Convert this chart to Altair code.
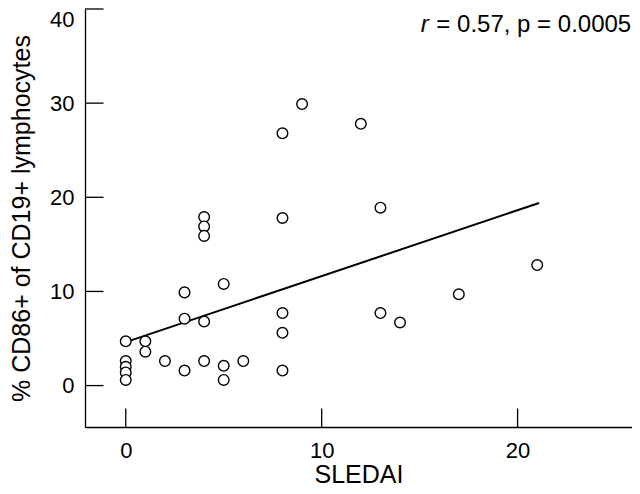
import altair as alt
import pandas as pd

# ---- data ----
sledai = [0, 0, 0, 0, 0,
          1, 1,
          2,
          3, 3, 3,
          4, 4, 4, 4, 4,
          5, 5, 5,
          6,
          8, 8, 8, 8, 8,
          9,
          12,
          13, 13,
          14,
          17,
          21]
cd86 = [4.7, 2.6, 2.0, 1.4, 0.6,
        4.7, 3.6,
        2.6,
        9.9, 7.1, 1.6,
        17.9, 16.9, 15.9, 6.8, 2.6,
        10.8, 2.1, 0.6,
        2.6,
        26.8, 17.8, 7.7, 5.6, 1.6,
        29.9,
        27.8,
        18.9, 7.7,
        6.7,
        9.7,
        12.8]

fit_x = [0, 21.1]
fit_y = [4.62, 19.4]

x_ticks = [0, 10, 20]
y_ticks = [0, 10, 20, 30, 40]

annot_x = [25.8]
annot_y = [37.6]
annot_rest = " = 0.57, p = 0.0005"

FONT = "Liberation Sans"
TICK_FS = 22
TITLE_FS = 25
ANN_FS = 24

# Arial/Liberation Sans advance widths (per 1000 em) for the annotation text
ADV = {" ": 278, "=": 584, "0": 556, "5": 556, "7": 556, ".": 278, ",": 278, "p": 556}
rest_width = sum(ADV[c] for c in annot_rest) / 1000 * ANN_FS

pts = pd.DataFrame({"sledai": sledai, "cd86": cd86})
fit = pd.DataFrame({"sledai": fit_x, "cd86": fit_y})
xt = pd.DataFrame({"sledai": x_ticks})
yt = pd.DataFrame({"cd86": y_ticks})
ann = pd.DataFrame({"sledai": annot_x, "cd86": annot_y})

W = 547
H = 418

xs = alt.Scale(domain=[-2.08, 25.84], nice=False, zero=False)
ys = alt.Scale(domain=[-4.4, 40], nice=False, zero=False)

xaxis = alt.Axis(values=x_ticks, ticks=False, grid=False, labelPadding=13,
                 labelBaseline="top", labelFlush=False,
                 titleBaseline="alphabetic", titleY=55, titleAnchor="middle")
yaxis = alt.Axis(values=y_ticks, ticks=False, grid=False, labelPadding=11,
                 labelFlush=True,
                 titleAngle=270, titleBaseline="alphabetic", titleX=-56,
                 titleY=H / 2, titleAlign="center", titleAnchor="middle")

X = alt.X("sledai:Q", scale=xs, axis=xaxis, title="SLEDAI")
Y = alt.Y("cd86:Q", scale=ys, axis=yaxis, title="% CD86+ of CD19+ lymphocytes")

line = alt.Chart(fit).mark_line(color="black", strokeWidth=2).encode(x=X, y=Y)

points = alt.Chart(pts).mark_point(
    shape="circle", filled=True, fill="white", stroke="black",
    strokeWidth=1.4, size=113, opacity=1
).encode(x=X, y=Y)

ytick_marks = alt.Chart(yt).mark_rule(color="black", strokeWidth=1.3).encode(
    y=Y, x=alt.value(0), x2=alt.value(18.5))
xtick_marks = alt.Chart(xt).mark_rule(color="black", strokeWidth=1.3).encode(
    x=X, y=alt.value(H), y2=alt.value(H - 18.5))

ann_rest = alt.Chart(ann).mark_text(
    text=annot_rest, align="right", baseline="alphabetic",
    font=FONT, fontSize=ANN_FS, color="black").encode(x=X, y=Y)
ann_r = alt.Chart(ann).mark_text(
    text="r", align="right", baseline="alphabetic", dx=-rest_width - 1,
    font=FONT, fontSize=ANN_FS, fontStyle="italic", color="black").encode(x=X, y=Y)

chart = alt.layer(line, points, ytick_marks, xtick_marks, ann_rest, ann_r).properties(
    width=W, height=H,
    autosize=alt.AutoSizeParams(type="none"),
    padding={"left": 77, "top": 1, "right": 0, "bottom": 59},
    background="white",
).configure_view(stroke=None).configure_axis(
    domainColor="black", domainWidth=1.3,
    labelFont=FONT, labelFontSize=TICK_FS, labelColor="black",
    titleFont=FONT, titleFontSize=TITLE_FS, titleFontWeight="normal", titleColor="black",
)

chart.save("out.html", embed_options={"renderer": "svg", "actions": False})
